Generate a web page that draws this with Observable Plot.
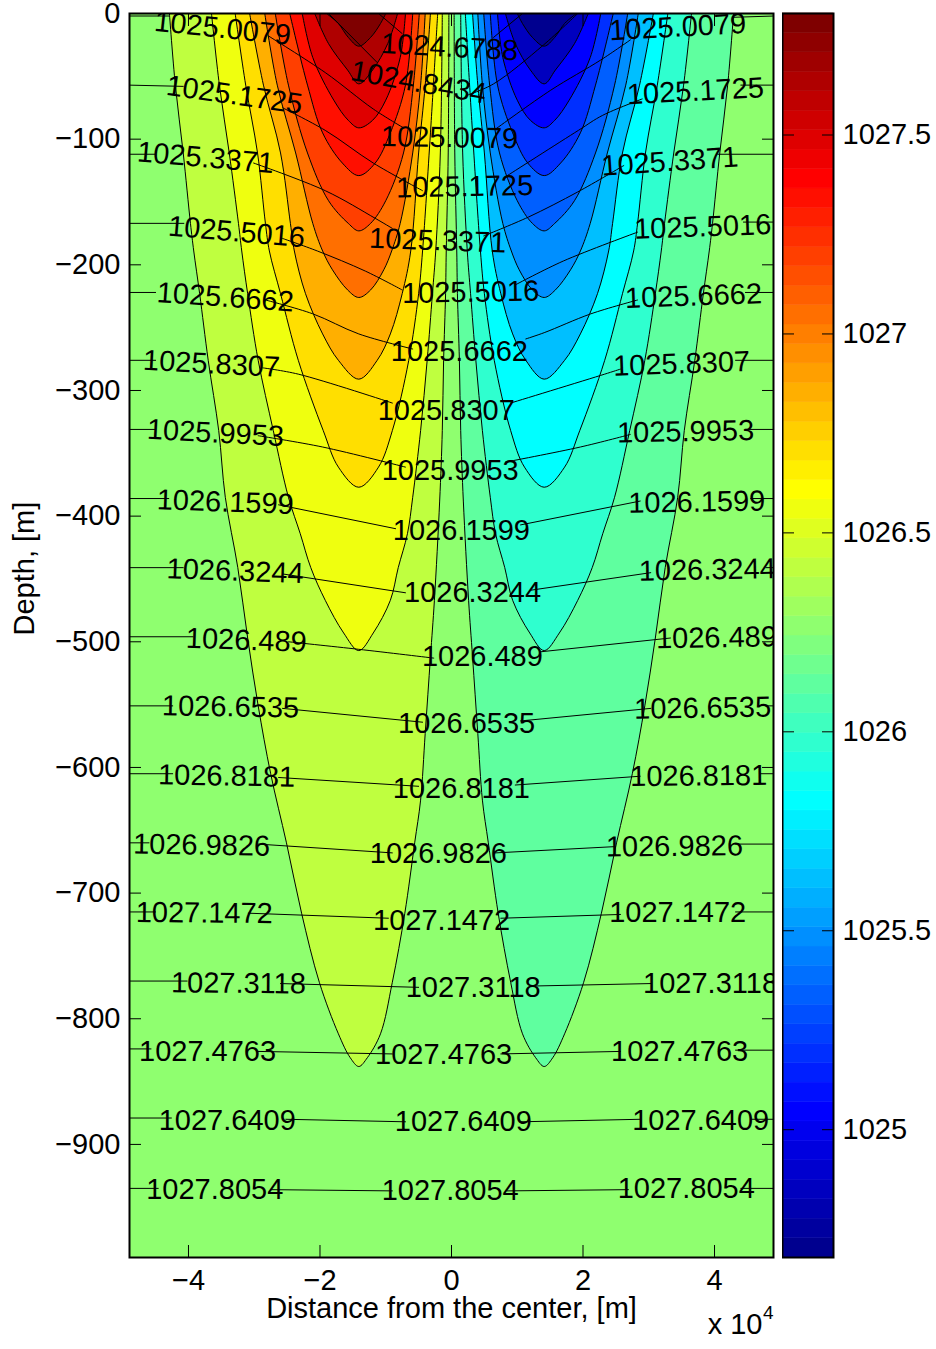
<!DOCTYPE html>
<html><head><meta charset="utf-8">
<script src="https://cdn.jsdelivr.net/npm/d3@7"></script>
<script src="https://cdn.jsdelivr.net/npm/@observablehq/plot@0.6"></script>
<style>
html,body{margin:0;padding:0;background:#fff}
#wrap{position:relative;width:936px;height:1349px;overflow:hidden}
#wrap svg{position:absolute;top:0;background:transparent;font-family:"Liberation Sans",Arial,sans-serif}
</style></head><body><div id="wrap"></div>
<script>
// Eddy contours of the left eddy, [x in 1e4 m, depth in m]; the right eddy is its mirror image
const contourA=[[-4.29,0],[-4.20,57],[-4.08,111],[-3.97,167],[-3.92,189],[-3.83,223],[-3.70,276],[-3.54,332],[-3.44,385],[-3.25,441],[-3.10,497],[-2.94,551],[-2.75,605],[-2.51,660],[-2.28,716],[-2.01,771],[-1.72,812],[-1.54,831],[-1.41,838],[-1.28,831],[-1.08,812],[-0.90,771],[-0.71,716],[-0.56,660],[-0.47,626],[-0.40,573],[-0.32,512],[-0.26,467],[-0.18,388],[-0.14,332],[-0.12,276],[-0.09,223],[-0.08,189],[-0.05,111],[-0.04,0]];
const contourB=[[-3.65,0],[-3.53,57],[-3.38,111],[-3.24,167],[-3.19,189],[-3.10,223],[-2.94,276],[-2.71,332],[-2.48,385],[-2.30,414],[-2.14,441],[-1.92,467],[-1.64,493],[-1.41,507],[-1.19,493],[-0.93,467],[-0.81,441],[-0.67,414],[-0.59,385],[-0.47,332],[-0.37,276],[-0.29,223],[-0.24,189],[-0.17,111],[-0.14,0]];
const contourC=[[-3.29,0],[-3.13,57],[-2.95,111],[-2.83,167],[-2.77,189],[-2.60,223],[-2.33,276],[-1.95,332],[-1.72,361],[-1.41,377],[-1.11,361],[-0.90,332],[-0.65,276],[-0.50,223],[-0.44,189],[-0.32,95],[-0.21,0]];
const contourD=[[-3.07,0],[-2.86,57],[-2.60,111],[-2.45,167],[-2.39,189],[-2.22,223],[-1.96,255],[-1.72,276],[-1.41,291],[-1.13,276],[-0.93,255],[-0.75,223],[-0.62,189],[-0.50,111],[-0.40,57],[-0.32,0]];
const contourE=[[-2.84,0],[-2.65,57],[-2.37,111],[-2.11,167],[-1.96,189],[-1.81,204],[-1.58,220],[-1.41,226],[-1.23,220],[-1.03,204],[-0.91,189],[-0.78,167],[-0.59,111],[-0.47,57],[-0.40,0]];
const contourF=[[-2.68,0],[-2.48,57],[-2.19,111],[-1.87,149],[-1.57,167],[-1.41,173],[-1.23,167],[-1.00,149],[-0.73,111],[-0.58,57],[-0.49,0]];
const contourG=[[-2.46,0],[-2.19,57],[-1.96,95],[-1.66,119],[-1.41,129],[-1.16,119],[-0.93,95],[-0.70,57],[-0.59,0]];
const contourH=[[-2.27,0],[-2.11,35],[-1.79,69],[-1.57,85],[-1.41,91],[-1.20,85],[-1.00,69],[-0.78,35],[-0.70,0]];
const contourI=[[-2.08,0],[-1.87,24],[-1.58,45],[-1.41,56],[-1.20,45],[-0.97,24],[-0.82,0]];
const contourJ=[[-1.90,0],[-1.72,8],[-1.57,19],[-1.41,26],[-1.23,19],[-1.08,8],[-1.00,0]];
const eddyContours=[contourA,contourB,contourC,contourD,contourE,contourF,contourG,contourH,contourI,contourJ];
const warmFills=["#BFFF3F","#EFFF0F","#FFDF00","#FFAF00","#FF6F00","#FF3F00","#FF0F00","#DF0000","#AF0000","#7F0000"];
const coldFills=["#5FFF9F","#2FFFCF","#00FFFF","#00BFFF","#008FFF","#005FFF","#002FFF","#0000FF","#0000BF","#00008F"];
const backgroundFill="#8FFF6F";

// Density isolines, broken where their labels sit: [x, depth]
const rho10246788=[[[-1.11,0],[-0.75,16]],[[0.64,19],[1.08,0]]];
const rho10248434=[[[-1.87,0],[-1.13,39]],[[0.24,65],[0.64,56],[1.40,25],[1.92,0]]];
const rho10250079=[[[-4.90,2],[-4.30,2]],[[-2.78,18],[-1.92,47],[-1.19,76],[-0.73,91]],[[0.67,92],[1.51,61],[2.27,37],[2.72,21]],[[4.29,3],[4.90,2]]];
const rho10251725=[[[-4.90,57],[-4.08,58]],[[-2.57,75],[-1.92,93],[-1.19,119],[-0.44,141]],[[0.85,129],[1.93,93],[2.30,81],[2.90,68]],[[4.40,57],[4.90,57]]];
const rho10253371=[[[-4.90,112],[-4.50,112]],[[-3.01,119],[-1.92,141],[-1.16,163],[-0.90,171]],[[0.49,177],[1.17,162],[1.92,142],[2.62,121]],[[4.05,112],[4.90,112]]];
const rho10255016=[[[-4.90,167],[-4.07,167]],[[-2.57,179],[-2.04,189],[-1.31,205],[-0.75,220]],[[0.97,216],[1.70,197],[2.83,174]],[[4.44,166],[4.90,166]]];
const rho10256662=[[[-4.90,222],[-4.50,222]],[[-2.83,228],[-2.11,239],[-1.41,255],[-0.59,267]],[[1.13,259],[1.41,254],[2.12,239],[2.83,228]],[[4.47,222],[4.90,222]]];
const rho10258307=[[[-4.90,276],[-4.50,276]],[[-2.87,282],[-2.33,287],[-0.90,310]],[[0.90,310],[2.33,287],[2.57,283]],[[4.32,276],[4.90,276]]];
const rho10259953=[[[-4.90,331],[-4.50,331]],[[-2.94,336],[-1.96,345],[-0.70,361]],[[0.82,357],[1.96,345],[2.72,335]],[[4.47,331],[4.90,331]]];
const rho10261599=[[[-4.90,386],[-4.30,386]],[[-2.63,391],[-0.85,410]],[[1.05,407],[2.87,388]],[[4.55,386],[4.90,386]]];
const rho10263244=[[[-4.90,441],[-4.08,441]],[[-2.57,446],[-0.70,461]],[[1.20,459],[3.03,445]],[[4.78,441],[4.90,441]]];
const rho1026489=[[[-4.90,496],[-3.93,496]],[[-2.48,500],[-1.41,506],[-0.27,513]],[[1.35,508],[3.33,497]]];
const rho10266535=[[[-4.90,551],[-4.24,551]],[[-2.57,553],[-0.44,564]],[[1.05,563],[3.03,553]],[[4.78,551],[4.90,551]]];
const rho10268181=[[[-4.90,605],[-4.24,605]],[[-2.63,608],[-0.50,615]],[[0.97,614],[2.87,607]],[[4.70,605],[4.90,605]]];
const rho10269826=[[[-4.90,660],[-4.60,660]],[[-2.94,661],[-0.90,668]],[[0.67,668],[2.49,663]],[[4.32,661],[4.90,661]]];
const rho10271472=[[[-4.90,715],[-4.50,715]],[[-3.09,716],[-0.96,720]],[[0.75,720],[2.57,717]],[[4.32,715],[4.90,715]]];
const rho10273118=[[[-4.90,770],[-4.02,770]],[[-2.60,772],[-0.50,775]],[[1.20,774],[3.03,772]],[[4.85,771],[4.90,771]]];
const rho10274763=[[[-4.90,824],[-4.57,824]],[[-2.94,826],[-0.90,828]],[[0.75,828],[2.57,826]],[[4.32,825],[4.90,825]]];
const rho10276409=[[[-4.90,879],[-4.26,879]],[[-2.52,880],[-0.70,882]],[[1.05,882],[2.87,880]],[[4.55,880],[4.90,880]]];
const rho10278054=[[[-4.90,935],[-4.46,935]],[[-2.75,936],[-0.90,937]],[[0.85,937],[2.69,936]],[[4.40,935],[4.90,935]]];
const densityLines=[rho10246788,rho10248434,rho10250079,rho10251725,rho10253371,rho10255016,rho10256662,rho10258307,rho10259953,rho10261599,rho10263244,rho1026489,rho10266535,rho10268181,rho10269826,rho10271472,rho10273118,rho10274763,rho10276409,rho10278054];

// Isoline labels: [text, x, depth, angle]
const labelsLeft=[["1025.0079",-3.48,12,6],["1025.1725",-3.30,65,8],["1025.3371",-3.74,115,5],["1025.5016",-3.27,174,5],["1025.6662",-3.44,226,4],["1025.8307",-3.65,279,3],["1025.9953",-3.59,334,3],["1026.1599",-3.44,389,2],["1026.3244",-3.29,444,2],["1026.489",-3.12,499,2],["1026.6535",-3.36,552,1],["1026.8181",-3.42,607,1],["1026.9826",-3.80,662,1],["1027.1472",-3.76,716,0.5],["1027.3118",-3.24,772,0.5],["1027.4763",-3.71,826,0],["1027.6409",-3.41,881,0],["1027.8054",-3.60,936,0]];
const labelsMiddle=[["1024.6788",-0.03,27,3],["1024.8434",-0.50,55,10],["1025.0079",-0.03,99,1],["1025.1725",0.20,138,-1],["1025.3371",-0.21,181,2],["1025.5016",0.29,222,-1],["1025.6662",0.12,269,0],["1025.8307",-0.08,316,0],["1025.9953",-0.02,364,0],["1026.1599",0.15,412,0],["1026.3244",0.32,461,0],["1026.489",0.47,512,0],["1026.6535",0.23,565,0],["1026.8181",0.15,617,0],["1026.9826",-0.20,669,0],["1027.1472",-0.15,722,0],["1027.3118",0.33,775,0],["1027.4763",-0.12,829,0],["1027.6409",0.18,882,0],["1027.8054",-0.02,937,0]];
const labelsRight=[["1025.0079",3.44,11,-3],["1025.1725",3.71,62,-3],["1025.3371",3.32,118,-4],["1025.5016",3.82,170,-2],["1025.6662",3.68,225,-2],["1025.8307",3.50,279,-2],["1025.9953",3.56,333,-1],["1026.1599",3.73,389,-1],["1026.3244",3.89,443,-1],["1026.489",4.03,497,-1],["1026.6535",3.82,553,-1],["1026.8181",3.76,607,-0.5],["1026.9826",3.39,663,-0.5],["1027.1472",3.44,716,0],["1027.3118",3.94,772,0],["1027.4763",3.47,826,0],["1027.6409",3.79,881,0],["1027.8054",3.57,935,0]];

const xTicks=[-4,-2,0,2,4];
const depthTicks=[0,-100,-200,-300,-400,-500,-600,-700,-800,-900];
const colorbarTicks=[1025,1025.5,1026,1026.5,1027,1027.5];
const colorbarDomain=[1024.6788,1027.8054];
const jet64=["#00008F","#00009F","#0000AF","#0000BF","#0000CF","#0000DF","#0000EF","#0000FF","#000FFF","#001FFF","#002FFF","#003FFF","#004FFF","#005FFF","#006FFF","#007FFF","#008FFF","#009FFF","#00AFFF","#00BFFF","#00CFFF","#00DFFF","#00EFFF","#00FFFF","#0FFFEF","#1FFFDF","#2FFFCF","#3FFFBF","#4FFFAF","#5FFF9F","#6FFF8F","#7FFF7F","#8FFF6F","#9FFF5F","#AFFF4F","#BFFF3F","#CFFF2F","#DFFF1F","#EFFF0F","#FFFF00","#FFEF00","#FFDF00","#FFCF00","#FFBF00","#FFAF00","#FF9F00","#FF8F00","#FF7F00","#FF6F00","#FF5F00","#FF4F00","#FF3F00","#FF2F00","#FF1F00","#FF0F00","#FF0000","#EF0000","#DF0000","#CF0000","#BF0000","#AF0000","#9F0000","#8F0000","#7F0000"];

const FS=29, TICK=-12;
const minus=d=>String(d).replace("-","\u2212");
const contourMark=(pts,fill,sign)=>Plot.line(pts,{x:d=>sign*d[0],y:d=>-d[1],fill,stroke:"#000",strokeWidth:1,curve:"catmull-rom",clip:true});
const segRows=densityLines.flatMap((line,i)=>line.flatMap((seg,j)=>seg.map(p=>({x:p[0],y:-p[1],z:i+"-"+j}))));
const labelMark=rows=>Plot.text(rows,{x:d=>d[1],y:d=>-d[2],text:d=>d[0],rotate:d=>d[3],fontSize:FS,fill:"#000",textAnchor:"middle",lineAnchor:"middle",clip:true});

const main=Plot.plot({
  width:936,height:1349,marginLeft:129,marginRight:163,marginTop:13,marginBottom:92,
  x:{domain:[-4.897,4.897],axis:null},
  y:{domain:[-990,0],axis:null},
  marks:[
    Plot.frame({fill:backgroundFill,stroke:"none"}),
    ...eddyContours.map((c,i)=>contourMark(c,warmFills[i],1)),
    ...eddyContours.map((c,i)=>contourMark(c,coldFills[i],-1)),
    Plot.line(segRows,{x:"x",y:"y",z:"z",stroke:"#000",strokeWidth:1,curve:"catmull-rom",clip:true}),
    labelMark(labelsLeft),labelMark(labelsMiddle),labelMark(labelsRight),
    Plot.axisY({ticks:depthTicks,anchor:"left",tickSize:0,tickPadding:9,tickFormat:minus,fontSize:FS,label:null,fill:"#000"}),
    Plot.axisY({ticks:depthTicks,anchor:"left",tickSize:TICK,fill:"none",label:null,stroke:"#000"}),
    Plot.axisY({ticks:depthTicks,anchor:"right",tickSize:TICK,fill:"none",label:null,stroke:"#000"}),
    Plot.axisX({ticks:xTicks,anchor:"bottom",tickSize:0,tickPadding:12,tickFormat:minus,fontSize:FS,label:null,fill:"#000"}),
    Plot.axisX({ticks:xTicks,anchor:"bottom",tickSize:TICK,fill:"none",label:null,stroke:"#000"}),
    Plot.axisX({ticks:xTicks,anchor:"top",tickSize:TICK,fill:"none",label:null,stroke:"#000"}),
    Plot.frame({stroke:"#000",strokeWidth:2,fill:"none"}),
    Plot.text(["Depth, [m]"],{frameAnchor:"left",dx:-105,rotate:-90,fontSize:FS,fill:"#000"}),
    Plot.text(["Distance from the center, [m]"],{frameAnchor:"bottom",dy:60,fontSize:FS,fill:"#000"}),
    Plot.text(["x 10"],{frameAnchor:"bottom-right",dx:-11,dy:76,textAnchor:"end",fontSize:FS,fill:"#000"}),
    Plot.text(["4"],{frameAnchor:"bottom-right",dx:0,dy:61,textAnchor:"end",fontSize:19,fill:"#000"})
  ]
});
const step=(colorbarDomain[1]-colorbarDomain[0])/jet64.length;
const bar=Plot.plot({
  width:154,height:1349,marginLeft:0,marginRight:103,marginTop:13,marginBottom:92,
  x:{axis:null},
  y:{domain:colorbarDomain,axis:null},
  color:{type:"identity"},
  marks:[
    Plot.rect(jet64,{y1:(d,i)=>colorbarDomain[0]+i*step,y2:(d,i)=>colorbarDomain[0]+(i+1)*step,fill:d=>d,stroke:d=>d,strokeWidth:0.5}),
    Plot.axisY({ticks:colorbarTicks,anchor:"right",tickSize:0,tickPadding:9,tickFormat:d=>String(d),fontSize:FS,label:null,fill:"#000"}),
    Plot.axisY({ticks:colorbarTicks,anchor:"right",tickSize:TICK,fill:"none",label:null,stroke:"#000"}),
    Plot.axisY({ticks:colorbarTicks,anchor:"left",tickSize:TICK,fill:"none",label:null,stroke:"#000"}),
    Plot.frame({stroke:"#000",strokeWidth:2,fill:"none"})
  ]
});
bar.style.left="782px";main.style.left="0px";
const w=document.getElementById("wrap");w.append(main,bar);
</script></body></html>
